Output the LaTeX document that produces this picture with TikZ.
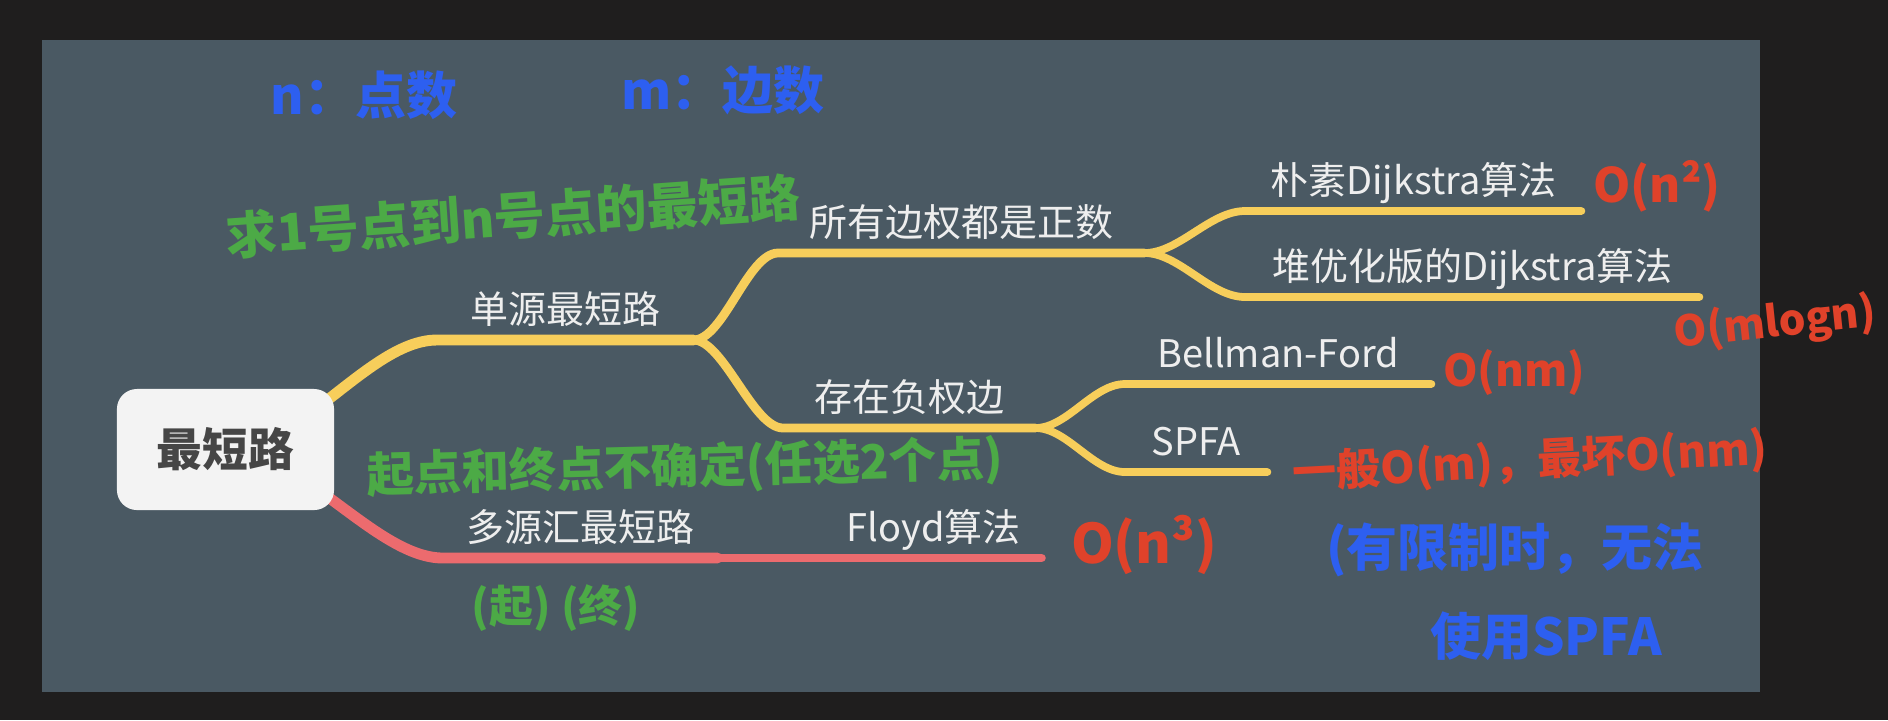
\documentclass[tikz,border=0pt]{standalone}
\usepackage{fontspec}
\usepackage{tikz}
\usetikzlibrary{positioning}
\newfontfamily\cjk{Noto Sans CJK SC}
\definecolor{outer}{RGB}{31,30,30}
\definecolor{panel}{RGB}{74,89,99}
\definecolor{rootfill}{RGB}{243,243,243}
\definecolor{roottext}{RGB}{70,70,70}
\definecolor{topictext}{RGB}{238,238,238}
\definecolor{ybranch}{RGB}{247,206,91}
\definecolor{rbranch}{RGB}{236,107,110}
\definecolor{penred}{RGB}{224,66,42}
\definecolor{pengreen}{RGB}{76,170,70}
\definecolor{penblue}{RGB}{45,95,240}
\pgfdeclarelayer{panel}
\pgfdeclarelayer{edges}
\pgfsetlayers{panel,edges,main}

\begin{document}
\begin{tikzpicture}[x=0.01cm, y=-0.01cm,
  root/.style={fill=rootfill, rounded corners=0.2cm, minimum width=2.17cm,
               minimum height=1.21cm, text=roottext,
               font=\cjk\bfseries\fontsize{13}{15}\selectfont},
  topic/.style={anchor=south west, minimum width=#1*0.01cm, inner xsep=0pt,
                inner ysep=2.9pt, text height=0.9em, text depth=0.15em,
                text=topictext, font=\cjk\fontsize{10.8}{13}\selectfont},
  l1/.style={line width=3.1pt, line cap=round},
  l2/.style={line width=2.5pt, line cap=round},
  l3/.style={line width=2.2pt, line cap=round},
  note/.style={inner sep=0pt, font=\cjk\bfseries\fontsize{#1}{#1}\selectfont},
  penR/.style={text=penred},
  penG/.style={text=pengreen},
  penB/.style={text=penblue}
]

%% Canvas
\useasboundingbox (0,0) rectangle (1888,720);
\begin{pgfonlayer}{panel}
  \fill[outer] (0,0) rectangle (1888,720);
  \fill[panel] (42,40) rectangle (1760,692);
\end{pgfonlayer}

%% Root
\node[root] (root) at (225.5,449.5) {最短路};

%% Single source
\node[topic=255] (sssp)  at (437,340)  {单源最短路};
\node[topic=365] (pos)   at (778,253)  {所有边权都是正数};
\node[topic=251] (neg)   at (783,428)  {存在负权边};
\node[topic=335] (dij1)  at (1245,211) {朴素Dijkstra算法};
\node[topic=453] (dij2)  at (1245,297) {堆优化版的Dijkstra算法};
\node[topic=305] (bford) at (1125,384) {Bellman-Ford};
\node[topic=141] (spfa)  at (1125,472) {SPFA};

%% Multi source
\node[topic=273] (multi) at (443,558)  {多源汇最短路};
\node[topic=214] (floyd) at (826,558)  {Floyd算法};

%% Branches
\begin{pgfonlayer}{edges}
  \draw[l1, ybranch] (root.center) .. controls +(75,0) and +(-67,0) .. (sssp.south west) -- (sssp.south east);
  \draw[l2, ybranch] (sssp.south east) .. controls +(30,0) and +(-30,0) .. (pos.south west) -- (pos.south east);
  \draw[l2, ybranch] (sssp.south east) .. controls +(30,0) and +(-30,0) .. (neg.south west) -- (neg.south east);
  \draw[l3, ybranch] (pos.south east) .. controls +(35,0) and +(-35,0) .. (dij1.south west) -- (dij1.south east);
  \draw[l3, ybranch] (pos.south east) .. controls +(35,0) and +(-35,0) .. (dij2.south west) -- (dij2.south east);
  \draw[l3, ybranch] (neg.south east) .. controls +(32,0) and +(-32,0) .. (bford.south west) -- (bford.south east);
  \draw[l3, ybranch] (neg.south east) .. controls +(32,0) and +(-32,0) .. (spfa.south west) -- (spfa.south east);
  \draw[l1, rbranch] (root.center) .. controls +(75,0) and +(-67,0) .. (multi.south west) -- (multi.south east);
  \draw[l2, rbranch] (multi.south east) -- (floyd.south west) -- (floyd.south east);
\end{pgfonlayer}

%% Pen notes
\node[note=14.5, penB] (nnote)  at (364,95)  {n：点数};
\node[note=14.5, penB] (mnote)  at (723,90)  {m：边数};
\node[note=14.5, penG, rotate=4] (goal) at (513,216) {求1号点到n号点的最短路};
\node[note=13.5, penG, rotate=1.5] (any) at (685,468) {起点和终点不确定(任选2个点)};
\node[note=12.5, penG] (ends)  at (556,608) {(起)\ (终)};
\node[note=13.5, penR] (cdij1)  at (1657,186) {O(n²)};
\node[note=12, penR, rotate=6] (cdij2) at (1775,324) {O(mlogn)};
\node[note=12.5, penR] (cbf)    at (1514,373) {O(nm)};
\node[note=12.5, penR, rotate=3] (cspfa) at (1530,462) {一般O(m)，最坏O(nm)};
\node[note=15.5, penR] (cfloyd) at (1144,545) {O(n³)};
\node[note=14.5, penB] (lim1) at (1515,550) {(有限制时，无法};
\node[note=14.5, penB] (lim2) at (1546,636) {使用SPFA};

\end{tikzpicture}
\end{document}
